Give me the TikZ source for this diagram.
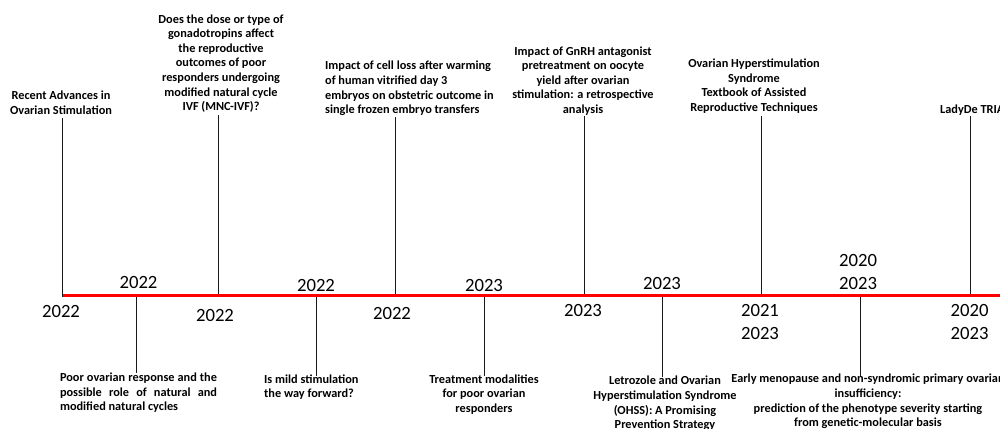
\documentclass[tikz,border=0pt]{standalone}
\usepackage{fontspec}
\setmainfont{Carlito}
\begin{document}
\begin{tikzpicture}[x=1pt,y=-1pt,
  title/.style={font=\bfseries\fontsize{12.3}{14.6}\selectfont, inner sep=0pt, align=center},
  year/.style={font=\fontsize{18.7}{23}\selectfont, inner sep=0pt, align=center},
  axis/.style={draw=red, line width=3.3pt},
  tick/.style={draw=black!90, line width=0.9pt}]
\useasboundingbox (0,0) rectangle (1000,428);
\clip (0,0) rectangle (1000,428);

% timeline
\coordinate (start) at (62,295.5);
\coordinate (stop) at (1010,295.5);
\draw[axis] (start) -- (stop);

% publications above the timeline
\node[title] (u1) at (61,103) {Recent Advances in\\Ovarian Stimulation};
\node[title] (u2) at (221,63.5) {Does the dose or type of\\gonadotropins affect\\the reproductive\\outcomes of poor\\responders undergoing\\modified natural cycle\\IVF (MNC-IVF)?};
\node[title, align=left, anchor=west] (u3) at (325,88.5) {Impact of cell loss after warming\\of human vitrified day 3\\embryos on obstetric outcome in\\single frozen embryo transfers};
\node[title] (u4) at (583,81) {Impact of GnRH antagonist\\pretreatment on oocyte\\yield after ovarian\\stimulation: a retrospective\\analysis};
\node[title] (u5) at (754,86) {Ovarian Hyperstimulation\\Syndrome\\Textbook of Assisted\\Reproductive Techniques};
\node[title, align=left, anchor=west] (u6) at (940,110) {LadyDe TRIA};

% publications below the timeline
\node[title, align=left] (d1) at (138.5,393) {\makebox[157pt][s]{Poor ovarian response and the}\\\makebox[157pt][s]{possible role of natural and}\\modified natural cycles};
\node[title, align=left, anchor=west] (d2) at (264,387) {Is mild stimulation\\the way forward?};
\node[title] (d3) at (484,394.5) {Treatment modalities\\for poor ovarian\\responders};
\node[title] (d4) at (665,403.5) {Letrozole and Ovarian\\Hyperstimulation Syndrome\\(OHSS): A Promising\\Prevention Strategy};
\node[title] (d5) at (868,401.5) {Early menopause and non-syndromic primary ovarian\\insufficiency:\\prediction of the phenotype severity starting\\from genetic-molecular basis};

% tick points on the timeline
\coordinate (a1) at (62,297);
\coordinate (a2) at (218.5,294);
\coordinate (a3) at (395,294);
\coordinate (a4) at (584,294);
\coordinate (a5) at (761,294);
\coordinate (a6) at (970,294);
\coordinate (b1) at (136.5,297);
\coordinate (b2) at (316,297);
\coordinate (b3) at (484,297);
\coordinate (b4) at (662.5,297);
\coordinate (b5) at (860,297);

% free ends of the connectors, just clear of each title
\coordinate (a1e) at (62,118);
\coordinate (a2e) at (218.5,115);
\coordinate (a3e) at (395,117);
\coordinate (a4e) at (584,116);
\coordinate (a5e) at (761,116);
\coordinate (a6e) at (970,116);
\coordinate (b1e) at (136.5,373);
\coordinate (b2e) at (316,376);
\coordinate (b3e) at (484,376);
\coordinate (b4e) at (662.5,377);
\coordinate (b5e) at (860,376);

% connectors
\foreach \p in {a1,a2,a3,a4,a5,a6,b1,b2,b3,b4,b5}
  \draw[tick] (\p) -- (\p e);

% years above the timeline
\node[year] (y1) at (138.5,282.5) {2022};
\node[year] (y2) at (316,285) {2022};
\node[year] (y3) at (484,285) {2023};
\node[year] (y4) at (662,283.7) {2023};
\node[year] (y5) at (858,272.3) {2020\\2023};

% years below the timeline
\node[year] (z1) at (61,311.5) {2022};
\node[year] (z2) at (215,315) {2022};
\node[year] (z3) at (392,313.5) {2022};
\node[year] (z4) at (583,310.5) {2023};
\node[year] (z5) at (760,322) {2021\\2023};
\node[year] (z6) at (969.5,322) {2020\\2023};
\end{tikzpicture}
\end{document}
